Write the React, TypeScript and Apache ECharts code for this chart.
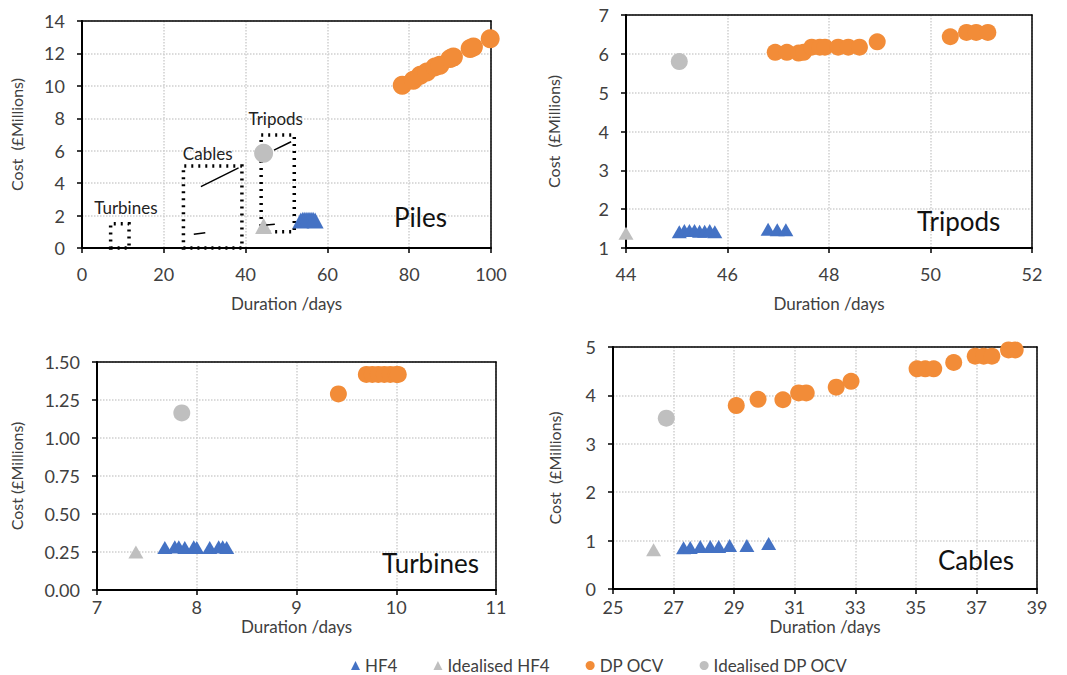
import React, { useEffect, useRef } from "react";
import * as echarts from "echarts";

// ---------- Data ----------
// Piles
const pilesHF4 = [[53.5, 1.7], [54, 1.75], [54.5, 1.75], [55, 1.75], [55.5, 1.75], [56, 1.75], [56.5, 1.75], [57, 1.7]];
const pilesIdealHF4 = [[44.4, 1.35]];
const pilesDP = [[78.3, 10.04], [81.0, 10.35], [82.7, 10.66], [84.3, 10.86], [86.3, 11.17], [87.5, 11.27], [90.0, 11.68], [90.8, 11.78], [94.9, 12.3], [95.7, 12.4], [99.8, 12.9]];
const pilesIdealDP = [[44.4, 5.84]];

// Tripods
const tripodsHF4 = [[45.05, 1.42], [45.15, 1.45], [45.25, 1.45], [45.35, 1.45], [45.45, 1.43], [45.55, 1.43], [45.65, 1.45], [45.75, 1.42], [46.8, 1.48], [46.98, 1.47], [47.15, 1.47]];
const tripodsIdealHF4 = [[44.0, 1.38]];
const tripodsDP = [[46.94, 6.04], [47.17, 6.04], [47.4, 6.02], [47.5, 6.04], [47.66, 6.17], [47.82, 6.17], [47.92, 6.17], [48.18, 6.17], [48.38, 6.17], [48.6, 6.17], [48.95, 6.31], [50.39, 6.44], [50.71, 6.55], [50.9, 6.55], [51.13, 6.55]];
const tripodsIdealDP = [[45.05, 5.8]];

// Turbines
const turbinesHF4 = [[7.68, 0.28], [7.78, 0.285], [7.82, 0.285], [7.88, 0.28], [7.97, 0.285], [8.0, 0.28], [8.13, 0.28], [8.22, 0.285], [8.26, 0.285], [8.3, 0.28]];
const turbinesIdealHF4 = [[7.39, 0.25]];
const turbinesDP = [[9.42, 1.29], [9.7, 1.418], [9.76, 1.418], [9.82, 1.418], [9.88, 1.418], [9.94, 1.418], [10.0, 1.418], [10.02, 1.418]];
const turbinesIdealDP = [[7.85, 1.165]];

// Cables
const cablesHF4 = [[27.33, 0.85], [27.55, 0.86], [27.88, 0.88], [28.21, 0.88], [28.49, 0.88], [28.85, 0.9], [29.42, 0.9], [30.14, 0.94]];
const cablesIdealHF4 = [[26.34, 0.81]];
const cablesDP = [[29.07, 3.79], [29.79, 3.92], [30.61, 3.91], [31.13, 4.05], [31.38, 4.05], [32.37, 4.17], [32.86, 4.29], [35.04, 4.55], [35.31, 4.55], [35.59, 4.55], [36.25, 4.68], [36.96, 4.81], [37.24, 4.81], [37.51, 4.81], [38.06, 4.94], [38.28, 4.94]];
const cablesIdealDP = [[26.76, 3.53]];

// Zoom boxes on the Piles panel: [label, xFrom, yFrom, xTo, yTo]
const zoomBoxes: [string, number, number, number, number][] = [
  ["Turbines", 7, 0, 11.5, 1.5],
  ["Cables", 24.8, 0, 39.1, 5.05],
  ["Tripods", 43.8, 1.0, 51.9, 6.97],
];

const legendNames = ["HF4", "Idealised HF4", "DP OCV", "Idealised DP OCV"];
const xTitle = "Duration /days";

const BLUE = "#4472C4";
const ORANGE = "#F28C38";
const GRAY = "#BFBFBF";
const FONT = "Lato";
const TXT = "#404040";

export default function App() {
  const ref = useRef<HTMLDivElement>(null);
  useEffect(() => {
    if (!ref.current) return;
    const chart = echarts.init(ref.current, null, { renderer: "svg" });

    const grids = [
      { left: 82, top: 21, width: 409, height: 227 },
      { left: 626, top: 15, width: 406, height: 233 },
      { left: 97, top: 362, width: 399, height: 228 },
      { left: 613, top: 347, width: 424, height: 242 },
    ];

    const axisCommon = {
      axisLine: { show: true, onZero: false, lineStyle: { color: "#000", width: 2 } },
      axisTick: { show: true, inside: false, length: 5, lineStyle: { color: "#000", width: 1.5 } },
      splitLine: { show: true, lineStyle: { color: "#D0D0D0", type: "dotted", width: 1.5 } },
      nameTextStyle: { color: TXT, fontSize: 17, fontFamily: FONT },
    };

    const xSpecs = [
      { min: 0, max: 100, interval: 20, gap: 47, margin: 17 },
      { min: 44, max: 52, interval: 2, gap: 47, margin: 17 },
      { min: 7, max: 11, interval: 1, gap: 28, margin: 8 },
      { min: 25, max: 39, interval: 2, gap: 29, margin: 9 },
    ];
    const ySpecs = [
      { min: 0, max: 14, interval: 2, gap: 58, name: "Cost  (£Millions)", dec: 0 },
      { min: 1, max: 7, interval: 1, gap: 65, name: "Cost  (£Millions)", dec: 0 },
      { min: 0, max: 1.5, interval: 0.25, gap: 73, name: "Cost (£Millions)", dec: 2 },
      { min: 0, max: 5, interval: 1, gap: 51, name: "Cost  (£Millions)", dec: 0 },
    ];

    const xAxis: any[] = xSpecs.map((s, i) => ({
      ...axisCommon,
      type: "value",
      gridIndex: i,
      min: s.min,
      max: s.max,
      interval: s.interval,
      name: xTitle,
      nameLocation: "middle",
      nameGap: s.gap,
      axisLabel: { color: TXT, fontSize: 18, fontFamily: FONT, margin: s.margin },
    }));
    const yAxis: any[] = ySpecs.map((s, i) => ({
      ...axisCommon,
      type: "value",
      gridIndex: i,
      min: s.min,
      max: s.max,
      interval: s.interval,
      name: s.name,
      nameLocation: "middle",
      nameGap: s.gap,
      nameTextStyle: { color: TXT, fontSize: 16, fontFamily: FONT },
      axisLabel: {
        color: TXT,
        fontSize: 18,
        fontFamily: FONT,
        margin: 17,
        formatter: (v: number) => v.toFixed(s.dec),
      },
    }));
    // Frame lines (top / right) for each panel
    xSpecs.forEach((s, i) => {
      xAxis.push({
        type: "value", gridIndex: i, position: "top", min: s.min, max: s.max,
        axisLine: { show: true, onZero: false, lineStyle: { color: "#000", width: 1.5 } },
        axisTick: { show: false }, axisLabel: { show: false }, splitLine: { show: false },
      });
    });
    ySpecs.forEach((s, i) => {
      yAxis.push({
        type: "value", gridIndex: i, position: "right", min: s.min, max: s.max,
        axisLine: { show: true, onZero: false, lineStyle: { color: "#000", width: 1.5 } },
        axisTick: { show: false }, axisLabel: { show: false }, splitLine: { show: false },
      });
    });

    const panels = [
      { hf4: pilesHF4, ihf4: pilesIdealHF4, dp: pilesDP, idp: pilesIdealDP },
      { hf4: tripodsHF4, ihf4: tripodsIdealHF4, dp: tripodsDP, idp: tripodsIdealDP },
      { hf4: turbinesHF4, ihf4: turbinesIdealHF4, dp: turbinesDP, idp: turbinesIdealDP },
      { hf4: cablesHF4, ihf4: cablesIdealHF4, dp: cablesDP, idp: cablesIdealDP },
    ];

    const series: any[] = [];
    panels.forEach((p, i) => {
      const triSize = i === 0 ? [17, 16] : [15, 13];
      const dotSize = i === 0 ? 19 : 17;
      series.push({
        type: "scatter", name: "HF4", xAxisIndex: i, yAxisIndex: i, data: p.hf4,
        symbol: "triangle", symbolSize: triSize, itemStyle: { color: BLUE, opacity: 1 }, z: 4,
      });
      series.push({
        type: "scatter", name: "Idealised HF4", xAxisIndex: i, yAxisIndex: i, data: p.ihf4,
        symbol: "triangle", symbolSize: triSize, itemStyle: { color: GRAY, opacity: 1 }, z: 3,
      });
      series.push({
        type: "scatter", name: "DP OCV", xAxisIndex: i, yAxisIndex: i, data: p.dp,
        symbol: "circle", symbolSize: dotSize, itemStyle: { color: ORANGE, opacity: 1 }, z: 4,
      });
      series.push({
        type: "scatter", name: "Idealised DP OCV", xAxisIndex: i, yAxisIndex: i, data: p.idp,
        symbol: "circle", symbolSize: dotSize, itemStyle: { color: GRAY, opacity: 1 }, z: 3,
      });
    });

    // Zoomed-out traces of the other panels drawn on the Piles panel (first to last point)
    [cablesDP, cablesHF4, tripodsDP, tripodsHF4].forEach((d, k) => {
      series.push({
        type: "line", name: "trace" + k, xAxisIndex: 0, yAxisIndex: 0,
        data: [d[0], d[d.length - 1]],
        showSymbol: false, symbol: "none", lineStyle: { color: "#000", width: 1.5 }, z: 5,
        silent: true,
      });
    });

    const labelOffsets: Record<string, number[]> = {
      Turbines: [6, -2],
      Cables: [-5, 2],
      Tripods: [-2, -2],
    };
    series.push({
      type: "scatter", name: "boxes", xAxisIndex: 0, yAxisIndex: 0, data: [], silent: true,
      markArea: {
        silent: true,
        itemStyle: { color: "transparent", borderColor: "#000", borderWidth: 3.5, borderType: [2, 5] },
        label: { show: true, position: "top", color: "#222", fontSize: 17, fontFamily: FONT, distance: 4 },
        data: zoomBoxes.map(([n, x0, y0, x1, y1]) => [
          { name: n, coord: [x0, y0], label: { offset: labelOffsets[n] } },
          { coord: [x1, y1] },
        ]),
      },
    });

    const panelLabels = [
      { text: "Piles", left: 394, top: 204 },
      { text: "Tripods", left: 917, top: 208 },
      { text: "Turbines", left: 382, top: 550 },
      { text: "Cables", left: 938, top: 547 },
    ];

    chart.setOption({
      animation: false,
      backgroundColor: "#fff",
      textStyle: { fontFamily: FONT },
      grid: grids,
      xAxis,
      yAxis,
      series,
      legend: {
        data: [
          { name: "HF4", icon: "triangle" },
          { name: "Idealised HF4", icon: "triangle" },
          { name: "DP OCV", icon: "circle" },
          { name: "Idealised DP OCV", icon: "circle" },
        ].filter((d) => legendNames.includes(d.name)),
        left: 346,
        top: 652,
        itemWidth: 9,
        itemHeight: 9,
        itemGap: 36,
        textStyle: { color: TXT, fontSize: 17, fontFamily: FONT },
      },
      graphic: panelLabels.map((l) => ({
        type: "text",
        left: l.left,
        top: l.top,
        style: { text: l.text, fontSize: 26, fontFamily: FONT, fill: "#111" },
        z: 10,
      })),
    });

    return () => chart.dispose();
  }, []);

  return (
    <div
      ref={ref}
      style={{ position: "absolute", left: 0, top: 0, width: 1067, height: 675, background: "#fff" }}
    />
  );
}
